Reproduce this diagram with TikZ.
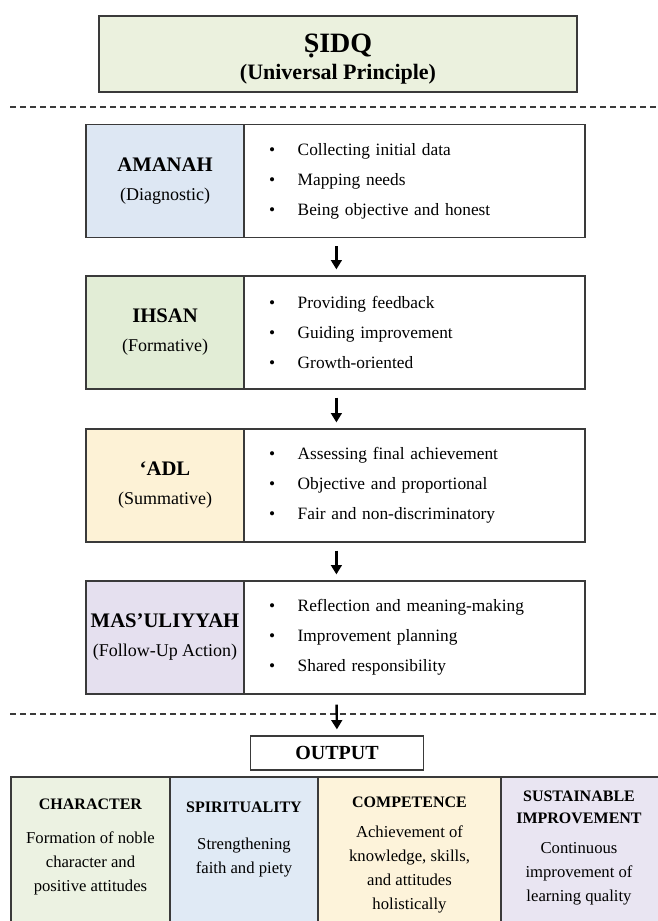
\documentclass[tikz,border=0pt]{standalone}
\usepackage{fontspec}
\setmainfont{Liberation Serif}
\usetikzlibrary{arrows.meta}
\definecolor{topgreen}{HTML}{EBF1DE}
\definecolor{sblue}{HTML}{DDE7F3}
\definecolor{sgreen}{HTML}{E2EDD6}
\definecolor{syellow}{HTML}{FDF2D6}
\definecolor{spurple}{HTML}{E5E0EF}
\definecolor{bgreen}{HTML}{ECF2E2}
\definecolor{bblue}{HTML}{E0EAF5}
\definecolor{byellow}{HTML}{FDF3DA}
\definecolor{bpurple}{HTML}{E9E5F2}
\definecolor{edge}{HTML}{3A3A3A}
\newcommand{\bul}{\textbullet\hspace{17pt}}
\tikzset{
  box/.style={draw=edge, line width=0.9pt, rectangle, inner sep=0pt},
  lbox/.style={box, minimum width=118.5pt, minimum height=84.75pt, align=center,
    font=\fontsize{13.5}{21.75}\selectfont},
  rbox/.style={box, minimum width=255.75pt, minimum height=84.75pt, fill=white,
    text width=218.25pt, inner xsep=18.75pt, align=left,
    font=\fontsize{13}{22.5}\selectfont},
  obox/.style={box, minimum height=111pt},
  otext/.style={align=center, font=\fontsize{12.5}{18}\selectfont, inner sep=0pt},
  flow/.style={line width=1.8pt, -{Triangle[width=8pt,length=7pt]}},
  sep/.style={line width=0.9pt, dash pattern=on 4.5pt off 3pt, edge},
}
\newcommand{\hd}[1]{{\fontsize{15.5}{21.75}\selectfont\bfseries #1}}
\newcommand{\ohd}[1]{{\fontsize{12}{18}\selectfont\bfseries #1}}
\begin{document}
\begin{tikzpicture}[x=0.75pt,y=-0.75pt]
\useasboundingbox[fill=white] (0,0) rectangle (657,921);

% top principle
\node[box, fill=topgreen, minimum width=358.5pt, minimum height=57pt] (sidq) at (338,54) {};
\node[align=center, inner sep=0pt, font=\fontsize{16.5}{20}\selectfont\bfseries]
  (sidqt) at (338,59)
  {{\fontsize{21}{20}\selectfont ṢIDQ}\\(Universal Principle)};

% dashed separators
\coordinate (d1a) at (10,107); \coordinate (d1b) at (657,107);
\coordinate (d2a) at (10,714); \coordinate (d2b) at (657,714);
\draw[sep] (d1a) -- (d1b);
\draw[sep] (d2a) -- (d2b);

% stages
\node[lbox, fill=sblue] (l1) at (165,181) {\hd{AMANAH}\\(Diagnostic)};
\node[rbox] (r1) at (414.5,181) {\bul Collecting initial data\\\bul Mapping needs\\\bul Being objective and honest};

\node[lbox, fill=sgreen] (l2) at (165,332.5) {\hd{IHSAN}\\(Formative)};
\node[rbox] (r2) at (414.5,332.5) {\bul Providing feedback\\\bul Guiding improvement\\\bul Growth-oriented};

\node[lbox, fill=syellow] (l3) at (165,485.5) {\hd{‘ADL}\\(Summative)};
\node[rbox] (r3) at (414.5,485.5) {\bul Assessing final achievement\\\bul Objective and proportional\\\bul Fair and non-discriminatory};

\node[lbox, fill=spurple] (l4) at (165,637.5) {\hd{MAS’ULIYYAH}\\(Follow-Up Action)};
\node[rbox] (r4) at (414.5,637.5) {\bul Reflection and meaning-making\\\bul Improvement planning\\\bul Shared responsibility};

% output
\node[box, minimum width=129.75pt, minimum height=25.5pt, fill=white,
  font=\fontsize{15}{18}\selectfont\bfseries] (out) at (337,753) {OUTPUT};

% arrows
\draw[flow, shorten <=6pt, shorten >=4.5pt] ([xshift=69.75pt]r1.south west) -- ([xshift=69.75pt]r2.north west);
\draw[flow, shorten <=6pt, shorten >=4.5pt] ([xshift=69.75pt]r2.south west) -- ([xshift=69.75pt]r3.north west);
\draw[flow, shorten <=6pt, shorten >=4.5pt] ([xshift=69.75pt]r3.south west) -- ([xshift=69.75pt]r4.north west);
\draw[flow, shorten <=7.5pt, shorten >=4.5pt] ([xshift=69.75pt]r4.south west) -- (out.north);

% bottom outcome boxes
\node[obox, fill=bgreen, minimum width=119.25pt] (b1) at (90.5,851) {};
\node[obox, fill=bblue, minimum width=111pt] (b2) at (244,851) {};
\node[obox, fill=byellow, minimum width=137.25pt] (b3) at (409.5,851) {};
\node[obox, fill=bpurple, minimum width=123pt] (b4) at (583,851) {};

\node[otext] (t1) at (90.5,847) {\ohd{CHARACTER}\\[7.5pt]Formation of noble\\character and\\positive attitudes};
\node[otext] (t2) at (244,839.5) {\ohd{SPIRITUALITY}\\[9.75pt]Strengthening\\faith and piety};
\node[otext] (t3) at (409.5,855) {\ohd{COMPETENCE}\\[4.5pt]Achievement of\\knowledge, skills,\\and attitudes\\holistically};
\node[otext] (t4) at (579,848) {\ohd{SUSTAINABLE}\\[-1.5pt]\ohd{IMPROVEMENT}\\[4.5pt]Continuous\\improvement of\\learning quality};
\end{tikzpicture}
\end{document}
